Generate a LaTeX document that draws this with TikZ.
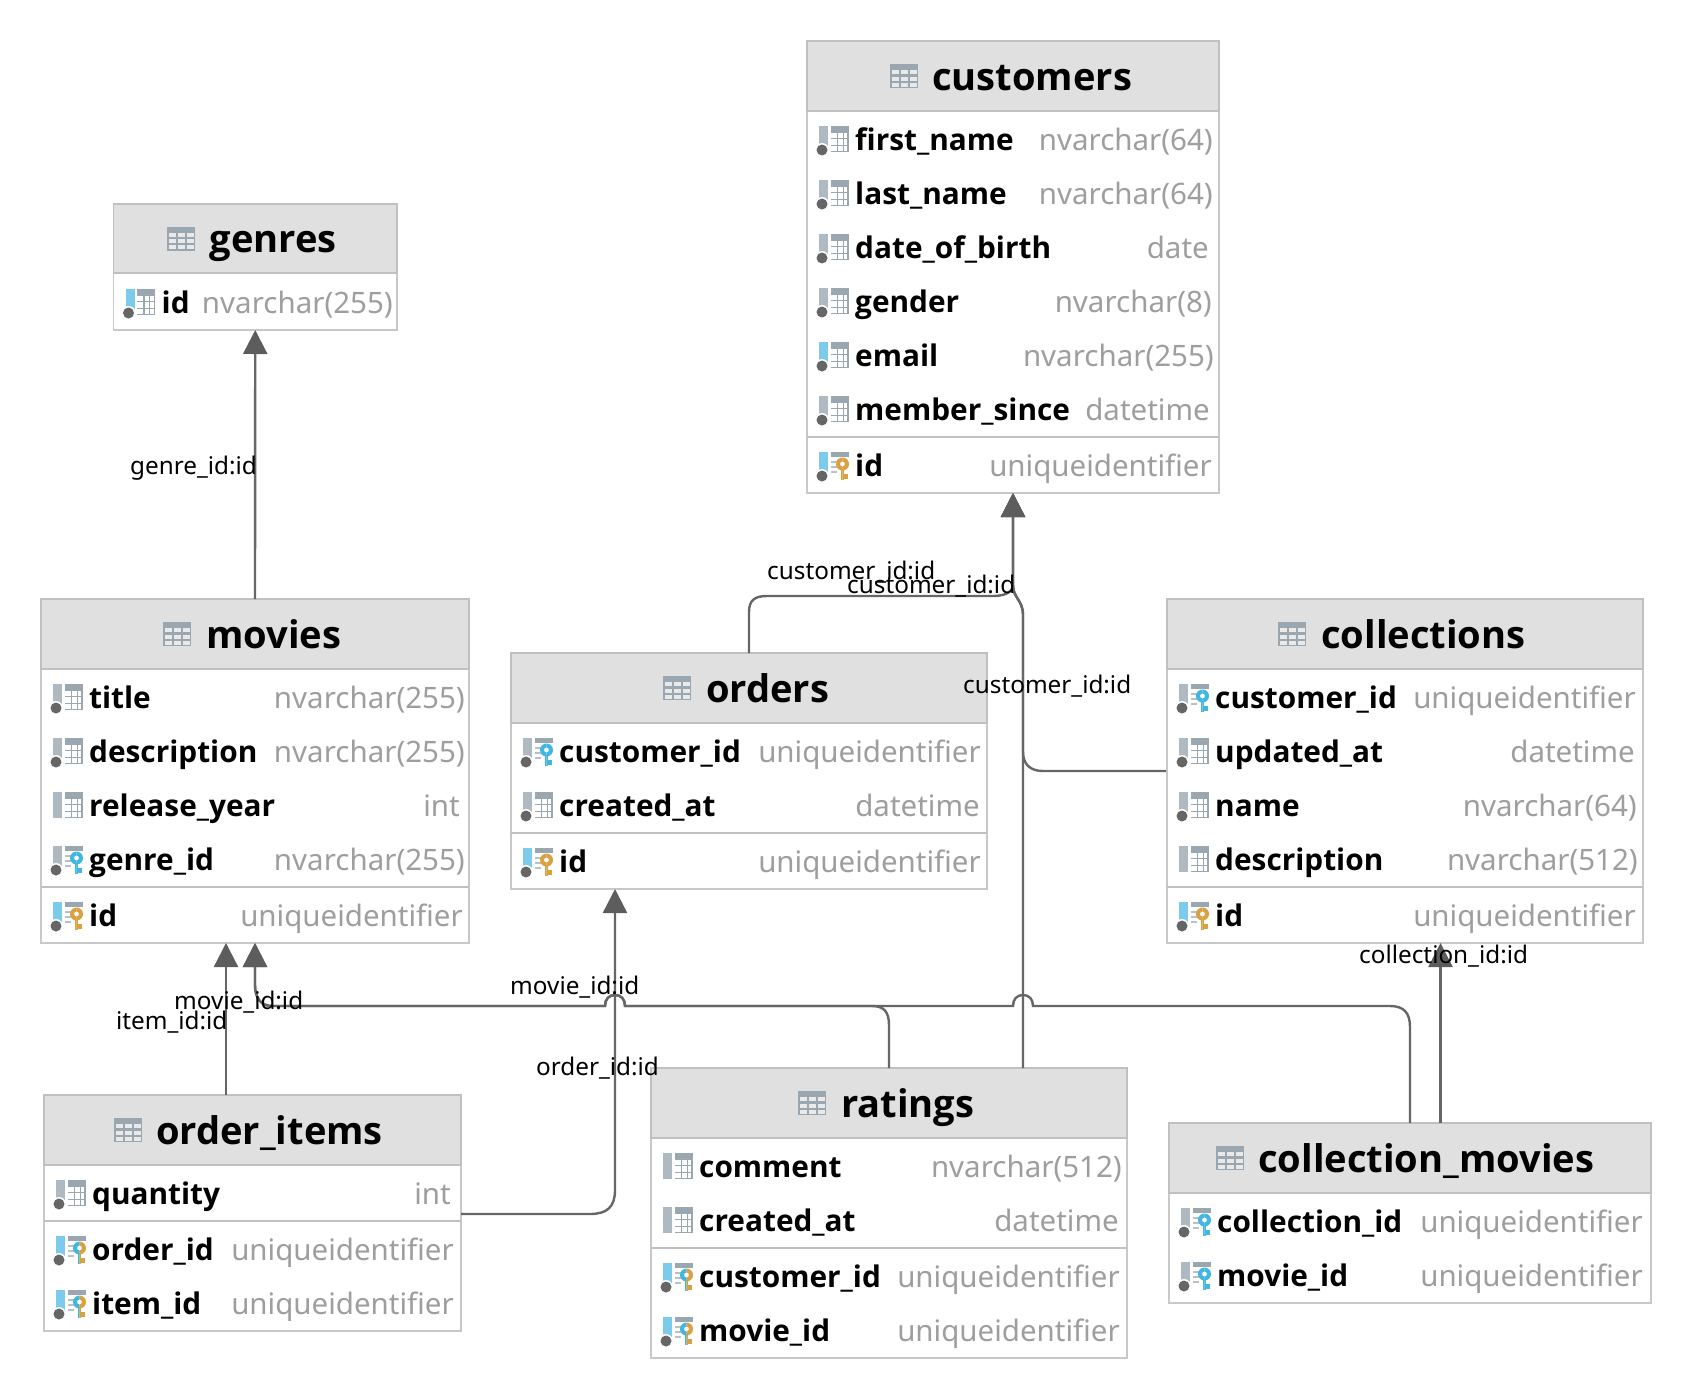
\documentclass[tikz,border=0pt]{standalone}
\usepackage{fontspec}
\setmainfont{Noto Sans}
\newfontfamily\boldfam{Open Sans}
\usetikzlibrary{arrows.meta,calc}
\definecolor{headfill}{HTML}{E0E0E0}
\definecolor{boxline}{HTML}{C8C8C8}
\definecolor{sepcol}{HTML}{C0C0C0}
\definecolor{typecol}{HTML}{9E9E9E}
\definecolor{barcol}{HTML}{AFB9C1}
\definecolor{gridcol}{HTML}{9AA7B0}
\definecolor{uniqcol}{HTML}{7CCBEC}
\definecolor{dotcol}{HTML}{666666}
\definecolor{fkcol}{HTML}{40B6E0}
\definecolor{pkcol}{HTML}{DBA040}
\definecolor{linkcol}{HTML}{666666}
\definecolor{tipcol}{HTML}{5D5D5D}
\newcommand{\drawbar}[1]{\fill[#1] (12,-13) rectangle (21,13);}
\newcommand{\drawgrid}{
  \fill[gridcol] (23.5,-13) rectangle (41.5,-7);
  \foreach \gy in {-7,-0.6,5.8,12.2} {\fill[gridcol] (23.5,\gy) rectangle (41.5,\gy+1);}
  \fill[gridcol] (29.8,-7) rectangle (31,13);
  \fill[gridcol] (35.6,-7) rectangle (36.8,13);
  \fill[gridcol] (40.3,-7) rectangle (41.5,13);
}
\newcommand{\drawdash}{
  \fill[gridcol] (23.5,-13) rectangle (41.5,-8);
  \foreach \gy in {-4,1,6} {\fill[gridcol!70] (23.5,\gy) rectangle (30,\gy+2);}
}
\newcommand{\drawdot}{
  \fill[white] (15,11) circle (7);
  \fill[dotcol] (15,11) circle (5.5);
}
\newcommand{\keyshape}{
  \fill[even odd rule] (35.5,-1) circle (6.5) (35.5,-1) circle (2.5);
  \fill (33.7,4) rectangle (37.3,15);
  \fill (37.3,9) rectangle (41,14);
}
\newcommand{\drawkey}[2]{
  \begin{scope}[#1]\clip (24,-20) rectangle (35.5,20); \keyshape\end{scope}
  \begin{scope}[#2]\clip (35.5,-20) rectangle (46,20); \keyshape\end{scope}
}
\tikzset{
  tablebox/.style={draw=boxline,line width=1.6pt,fill=white,inner sep=0pt,outer sep=0pt,anchor=north west},
  headbox/.style={draw=sepcol,line width=1.5pt,fill=headfill,inner sep=0pt,outer sep=0pt,anchor=north west},
  titletext/.style={font=\fontsize{38.1}{44}\selectfont\boldfam\bfseries,anchor=base west,inner sep=0pt},
  fieldname/.style={font=\fontsize{29.8}{36}\selectfont\boldfam\bfseries,anchor=base west,inner sep=0pt,xshift=48pt,yshift=-11pt},
  fieldtype/.style={font=\fontsize{29.5}{36}\selectfont,text=typecol,anchor=base east,inner sep=0pt,yshift=-11pt},
  linktext/.style={font=\fontsize{24.3}{28}\selectfont,anchor=base west,inner sep=0pt},
  sepline/.style={draw=sepcol,line width=2pt},
  fklink/.style={draw=linkcol,line width=2.4pt,-{Triangle[length=24pt,width=24pt,color=tipcol]}},
  pics/colplain/.style={code={\drawbar{barcol}\drawgrid\drawdot}},
  pics/colnull/.style={code={\drawbar{barcol}\drawgrid}},
  pics/coluniq/.style={code={\drawbar{uniqcol}\drawgrid\drawdot}},
  pics/colfk/.style={code={\drawbar{barcol}\drawdash\drawdot\drawkey{fkcol}{fkcol}}},
  pics/colpk/.style={code={\drawbar{uniqcol}\drawdash\drawdot\drawkey{pkcol}{pkcol}}},
  pics/colpf/.style={code={\drawbar{uniqcol}\drawdash\drawdot\drawkey{fkcol}{pkcol}}},
  pics/tabicon/.style={code={
    \fill[gridcol] (0,-12) rectangle (28,12);
    \foreach \gy in {-6,0.5,6.5} {\foreach \gx in {2,11,20} {\fill[headfill!70!white] (\gx,\gy) rectangle (\gx+6.5,\gy+4);}}
  }},
}
% table: name, left, top, width, height, head height, title, title x, icon x
\newcommand{\dbtable}[9]{
  \node[tablebox,minimum width=#4pt,minimum height=#5pt] (#1) at (#2,#3) {};
  \node[headbox,minimum width=#4pt,minimum height=#6pt] (#1-head) at (#1.north west) {};
  \node[titletext,yshift=-14pt] (#1-title) at (#8,0 |- #1-head.center) {#7};
  \pic at (#9,0 |- #1-head.center) {tabicon};
}
% row: table, tag, icon, name, type, y, right edge of type
\newcommand{\fieldrow}[7]{
  \pic at (#1.west |- 0,#6) {#3};
  \node[fieldname] (#1-#2) at (#1.west |- 0,#6) {#4};
  \node[fieldtype] (#1-#2-type) at (#7,#6) {#5};
}
\begin{document}
\begin{tikzpicture}[x=1pt,y=-1pt]
\useasboundingbox (0,0) rectangle (1692,1400);
% tables
\dbtable{genres}{113.5}{204}{283.5}{126}{69}{genres}{209.5}{167}
\fieldrow{genres}{id}{coluniq}{id}{nvarchar(255)}{302}{393}

\dbtable{customers}{807}{41}{412}{452}{70}{customers}{932}{890}
\fieldrow{customers}{first}{colplain}{first\_name}{nvarchar(64)}{139}{1213}
\fieldrow{customers}{last}{colplain}{last\_name}{nvarchar(64)}{193}{1213}
\fieldrow{customers}{birth}{colplain}{date\_of\_birth}{date}{247}{1209}
\fieldrow{customers}{gender}{colplain}{gender}{nvarchar(8)}{301}{1212}
\fieldrow{customers}{email}{coluniq}{email}{nvarchar(255)}{355}{1214}
\fieldrow{customers}{since}{colplain}{member\_since}{datetime}{409}{1210}
\draw[sepline] (customers.west |- 0,437) -- (customers.east |- 0,437);
\fieldrow{customers}{id}{colpk}{id}{uniqueidentifier}{465}{1212}

\dbtable{movies}{41}{599}{428}{344}{70}{movies}{206}{163}
\fieldrow{movies}{title}{colplain}{title}{nvarchar(255)}{697}{465}
\fieldrow{movies}{desc}{colplain}{description}{nvarchar(255)}{751}{465}
\fieldrow{movies}{year}{colnull}{release\_year}{int}{805}{460}
\fieldrow{movies}{genre}{colfk}{genre\_id}{nvarchar(255)}{859}{465}
\draw[sepline] (movies.west |- 0,887) -- (movies.east |- 0,887);
\fieldrow{movies}{id}{colpk}{id}{uniqueidentifier}{915}{463}

\dbtable{orders}{511}{653}{476}{236}{70}{orders}{706}{663}
\fieldrow{orders}{customer}{colfk}{customer\_id}{uniqueidentifier}{751}{981}
\fieldrow{orders}{created}{colplain}{created\_at}{datetime}{805}{980}
\draw[sepline] (orders.west |- 0,833) -- (orders.east |- 0,833);
\fieldrow{orders}{id}{colpk}{id}{uniqueidentifier}{861}{981}

\dbtable{collections}{1167}{599}{476}{344}{70}{collections}{1321}{1278}
\fieldrow{collections}{customer}{colfk}{customer\_id}{uniqueidentifier}{697}{1636}
\fieldrow{collections}{updated}{colplain}{updated\_at}{datetime}{751}{1635}
\fieldrow{collections}{name}{colplain}{name}{nvarchar(64)}{805}{1637}
\fieldrow{collections}{desc}{colnull}{description}{nvarchar(512)}{859}{1638}
\draw[sepline] (collections.west |- 0,887) -- (collections.east |- 0,887);
\fieldrow{collections}{id}{colpk}{id}{uniqueidentifier}{915}{1636}

\dbtable{items}{44}{1095}{417}{236}{70}{order\_items}{156}{114}
\fieldrow{items}{quantity}{colplain}{quantity}{int}{1193}{451}
\draw[sepline] (items.west |- 0,1221) -- (items.east |- 0,1221);
\fieldrow{items}{order}{colpf}{order\_id}{uniqueidentifier}{1249}{454}
\fieldrow{items}{item}{colpf}{item\_id}{uniqueidentifier}{1303}{454}

\dbtable{ratings}{651}{1068}{476}{290}{70}{ratings}{841}{798}
\fieldrow{ratings}{comment}{colnull}{comment}{nvarchar(512)}{1166}{1122}
\fieldrow{ratings}{created}{colnull}{created\_at}{datetime}{1220}{1119}
\draw[sepline] (ratings.west |- 0,1248) -- (ratings.east |- 0,1248);
\fieldrow{ratings}{customer}{colpf}{customer\_id}{uniqueidentifier}{1276}{1120}
\fieldrow{ratings}{movie}{colpf}{movie\_id}{uniqueidentifier}{1330}{1120}

\dbtable{colmovies}{1169}{1123}{482}{180}{70}{collection\_movies}{1258}{1216}
\fieldrow{colmovies}{collection}{colfk}{collection\_id}{uniqueidentifier}{1221}{1643}
\fieldrow{colmovies}{movie}{colfk}{movie\_id}{uniqueidentifier}{1275}{1643}
% free ends of the links
\coordinate (itemup) at (226,1095);
\coordinate (itemtip) at (226,943);
\coordinate (ordertip) at (615,889);
\coordinate (orderfrom) at (461,1214);
\coordinate (collfrom) at (1166,771);
\coordinate (ratingfrom) at (1023,1068);
\coordinate (cmfrom) at (1410,1123);
\coordinate (cmup) at (1440.5,1123);
\coordinate (colltip) at (1440.5,943);
% links
\draw[fklink] (movies.north) -- (genres.south);
\draw[fklink] (orders.north) -- (749,612) .. controls (749,600) and (755,596) .. (767,596) -- (993,596) .. controls (1003,596) and (1013,593) .. (1013,585) -- (customers.south);
\draw[fklink] (collfrom) -- (1043,771) .. controls (1030,771) and (1023,764) .. (1023,752) -- (1023,615) .. controls (1023,600) and (1013,598) .. (1013,585) -- (customers.south);
\draw[fklink] (ratingfrom) -- (1023,615) .. controls (1023,600) and (1013,598) .. (1013,585) -- (customers.south);
\draw[fklink] (itemup) -- (itemtip);
\draw[fklink] (ratings.north) -- (889,1025) .. controls (889,1012) and (884,1006) .. (872,1006) -- (625,1006) .. controls (625,999) and (621,995) .. (615,995) .. controls (609,995) and (605,999) .. (605,1006) -- (272,1006) .. controls (261,1006) and (255,998) .. (255,985) -- (movies.south);
\draw[fklink] (cmfrom) -- (1410,1027) .. controls (1410,1013) and (1404,1006) .. (1390,1006) -- (1033,1006) .. controls (1033,999) and (1029,995) .. (1023,995) .. controls (1017,995) and (1013,999) .. (1013,1006) -- (625,1006) .. controls (625,999) and (621,995) .. (615,995) .. controls (609,995) and (605,999) .. (605,1006) -- (272,1006) .. controls (261,1006) and (255,998) .. (255,985) -- (movies.south);
\draw[fklink] (orderfrom) -- (590,1214) .. controls (607,1214) and (615,1207) .. (615,1190) -- (ordertip);
\draw[fklink] (cmup) -- (colltip);
% link labels
\node[linktext] (lgenre) at (130,474) {genre\_id:id};
\node[linktext] (lcust1) at (767,579) {customer\_id:id};
\node[linktext] (lcust2) at (847,593) {customer\_id:id};
\node[linktext] (lcust3) at (963,693) {customer\_id:id};
\node[linktext] (lmovie1) at (174,1009) {movie\_id:id};
\node[linktext] (lmovie2) at (510,994) {movie\_id:id};
\node[linktext] (litem) at (116,1029) {item\_id:id};
\node[linktext] (lorder) at (536,1075) {order\_id:id};
\node[linktext] (lcoll) at (1359,963) {collection\_id:id};
\end{tikzpicture}
\end{document}
